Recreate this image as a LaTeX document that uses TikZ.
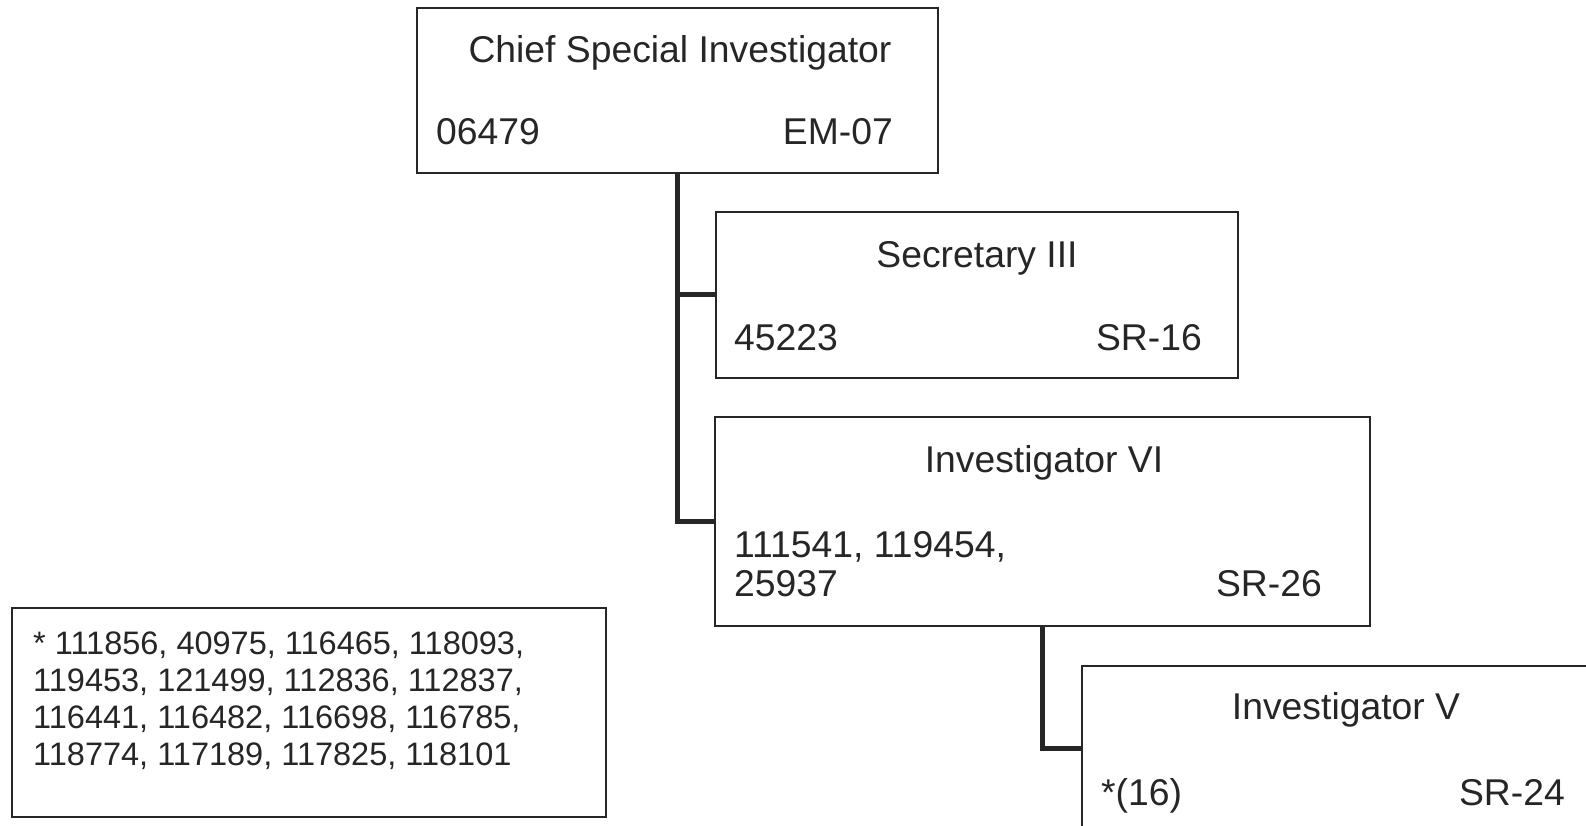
\documentclass[tikz,border=0pt]{standalone}
\usepackage{fontspec}
\setmainfont{Liberation Sans}
\begin{document}
\begin{tikzpicture}[x=1pt,y=-1pt,
  box/.style={draw=black!85,line width=1.6pt,rectangle,inner sep=0pt,anchor=north west},
  conn/.style={draw=black!85,line width=5pt,line cap=butt,line join=miter},
  big/.style={inner sep=0pt,text=black!85,font=\fontsize{37.3}{42}\selectfont},
  small/.style={inner sep=0pt,text=black!85,font=\fontsize{32.5}{37}\selectfont,align=left}]
\useasboundingbox (0,0) rectangle (1586,826);
\clip (0,0) rectangle (1586,826);
% boxes
\node[box,minimum width=521pt,minimum height=165pt] (chief) at (416,7) {};
\node[box,minimum width=522pt,minimum height=166pt] (sec) at (715,211) {};
\node[box,minimum width=655pt,minimum height=209pt] (inv6) at (714,416) {};
\node[box,minimum width=530pt,minimum height=166pt] (inv5) at (1081,665) {};
\node[box,minimum width=594pt,minimum height=209pt] (note) at (11,607) {};
% connectors
\draw[conn] (chief.south) |- (sec.west);
\draw[conn] (chief.south) |- (inv6.west);
\draw[conn] (inv6.south) |- (inv5.west);
% texts
\node[big,anchor=base] (t1) at (680,63) {Chief Special Investigator};
\node[big,anchor=base west] (n1) at (436,145) {06479};
\node[big,anchor=base east] (g1) at (893,145) {EM-07};
\node[big,anchor=base] (t2) at (977,267) {Secretary III};
\node[big,anchor=base west] (n2) at (734,350) {45223};
\node[big,anchor=base east] (g2) at (1202,350) {SR-16};
\node[big,anchor=base] (t3) at (1044,472) {Investigator VI};
\node[big,anchor=base west] (n3a) at (734,557) {111541, 119454,};
\node[big,anchor=base west] (n3b) at (734,596) {25937};
\node[big,anchor=base east] (g3) at (1322,596) {SR-26};
\node[big,anchor=base] (t4) at (1346,719) {Investigator V};
\node[big,anchor=base west] (n4) at (1101,805) {*(16)};
\node[big,anchor=base east] (g4) at (1565,805) {SR-24};
\node[small,anchor=base west] (f1) at (33,654) {* 111856, 40975, 116465, 118093,};
\node[small,anchor=base west] (f2) at (33,691) {119453, 121499, 112836, 112837,};
\node[small,anchor=base west] (f3) at (33,728) {116441, 116482, 116698, 116785,};
\node[small,anchor=base west] (f4) at (33,765) {118774, 117189, 117825, 118101};
\end{tikzpicture}
\end{document}
